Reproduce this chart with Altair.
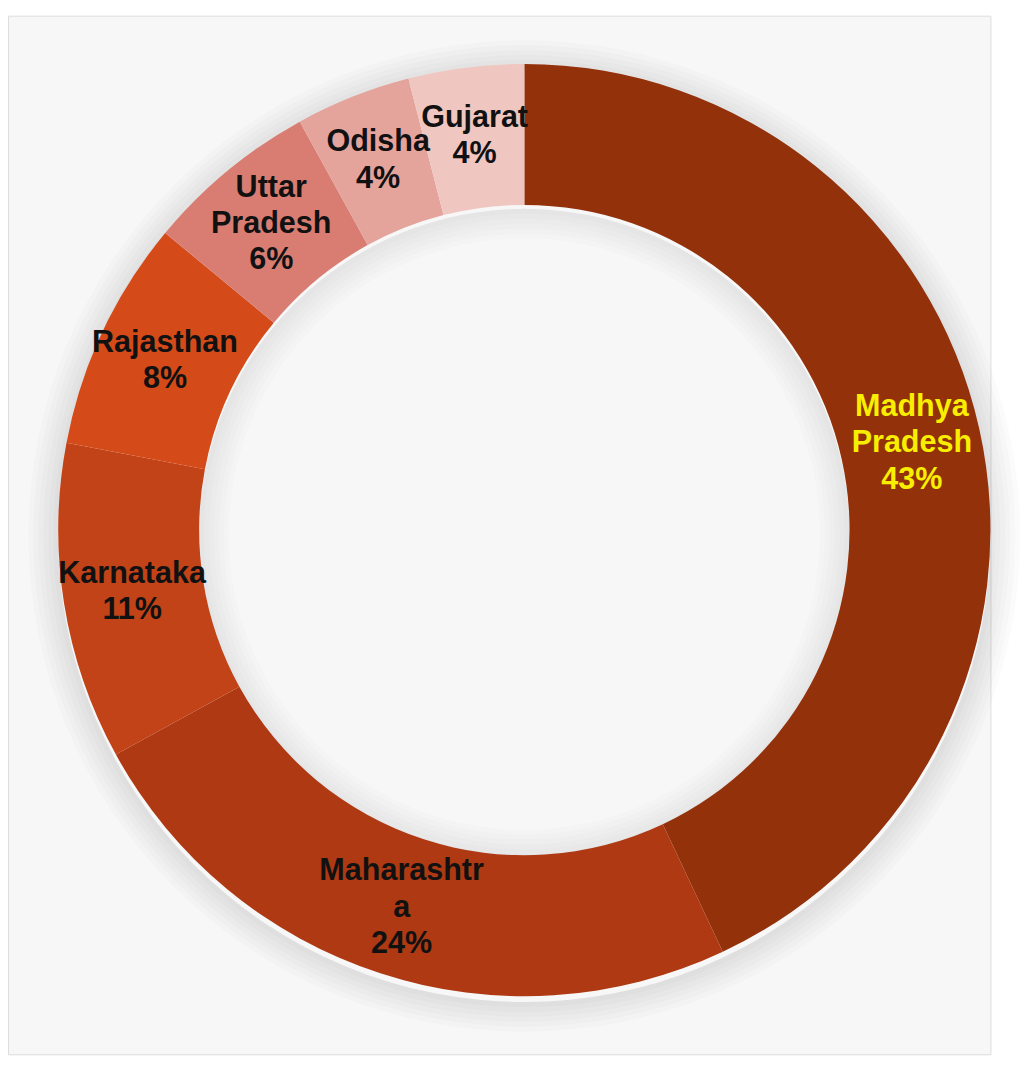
import altair as alt
import pandas as pd

states = ["Madhya Pradesh", "Maharashtra", "Karnataka", "Rajasthan", "Uttar Pradesh", "Odisha", "Gujarat"]
labels = ["Madhya\nPradesh\n43%", "Maharashtr\na\n24%", "Karnataka\n11%", "Rajasthan\n8%",
          "Uttar\nPradesh\n6%", "Odisha\n4%", "Gujarat\n4%"]
shares = [43, 24, 11, 8, 6, 4, 4]
colors = ["#93310b", "#ae3912", "#c24318", "#d44b19", "#d97d72", "#e4a39b", "#f0c6c0"]
label_colors = ["#f7ee00", "#111111", "#111111", "#111111", "#111111", "#111111", "#111111"]

df = pd.DataFrame({
    "state": states,
    "label": labels,
    "share": shares,
    "idx": list(range(len(states))),
    "lc": label_colors,
    "nlines": [lab.count("\n") + 1 for lab in labels],
})
TOTAL = sum(shares)

CX, CY = 524, 522
R_OUT, R_IN = 473, 330
LH = 37

one = pd.DataFrame({"a": [0]})

# soft shadow around the ring
shadow_layers = []
for k in range(1, 7):
    shadow_layers.append(
        alt.Chart(one).mark_arc(theta=0, theta2=6.2832, radius=R_OUT + 5 * k, radius2=R_OUT,
                                color="#8a8a8a", opacity=0.03)
        .encode(x=alt.value(CX), y=alt.value(CY + 6))
    )
    shadow_layers.append(
        alt.Chart(one).mark_arc(theta=0, theta2=6.2832, radius=R_IN, radius2=R_IN - 5 * k,
                                color="#8a8a8a", opacity=0.025)
        .encode(x=alt.value(CX), y=alt.value(CY + 4))
    )

ring = alt.Chart(df).mark_arc(radius=R_OUT, radius2=R_IN, stroke=None).encode(
    theta=alt.Theta("share:Q", stack=True),
    order=alt.Order("idx:Q"),
    color=alt.Color("state:N", scale=alt.Scale(domain=states, range=colors), legend=None),
    x=alt.value(CX),
    y=alt.value(CY),
)

text_layers = []
for n in sorted(set(df["nlines"])):
    text_layers.append(
        alt.Chart(df).transform_window(
            cum="sum(share)", sort=[alt.SortField("idx")], frame=[None, 0]
        ).transform_calculate(
            mid="datum.cum - datum.share / 2"
        ).transform_filter(
            f"datum.nlines == {n}"
        ).mark_text(
            radius=403, font="Liberation Sans", fontWeight="bold", fontSize=31,
            lineBreak="\n", lineHeight=LH, align="center", baseline="middle",
            dy=-(n - 1) * LH / 2,
        ).encode(
            theta=alt.Theta("mid:Q", stack=None, scale=alt.Scale(domain=[0, TOTAL])),
            text="label:N",
            color=alt.Color("lc:N", scale=None),
            x=alt.value(CX),
            y=alt.value(CY),
        )
    )

chart = alt.layer(*shadow_layers, ring, *text_layers).properties(
    width=997, height=1054, padding=0, background="#ffffff"
).configure_view(fill="#f7f7f7", stroke="#dcdcdc", strokeWidth=1)

chart.save("out.html", embed_options={"renderer": "svg", "actions": False})
